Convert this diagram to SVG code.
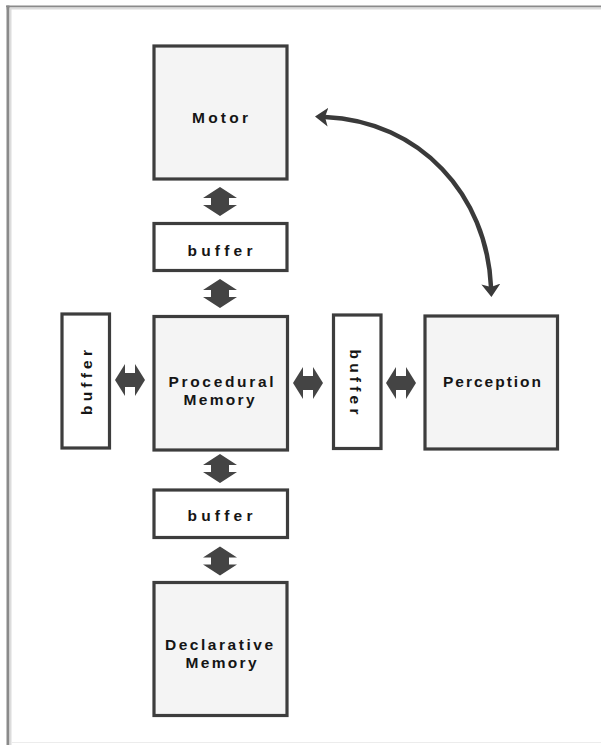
<svg xmlns="http://www.w3.org/2000/svg" width="601" height="745" viewBox="0 0 601 745">
<defs>
<style>
.big{fill:#f4f4f4;stroke:#3d3d3d;stroke-width:3.2}
.buf{fill:#ffffff;stroke:#3d3d3d;stroke-width:3.2}
.lbl{font-family:"Liberation Sans",Arial,sans-serif;font-weight:bold;font-size:15.5px;fill:#151515;text-anchor:middle}
.dbl{fill:#444444}
</style>
<path id="varrow" d="M0,-14.5 L17,-3.5 L9,-3.5 L9,3.5 L17,3.5 L0,14.5 L-17,3.5 L-9,3.5 L-9,-3.5 L-17,-3.5 Z"/>
<path id="harrow" d="M-15,0 L-5,-16 L-5,-7 L5,-7 L5,-16 L15,0 L5,16 L5,7 L-5,7 L-5,16 Z"/>
<marker id="head" viewBox="0 0 14 20" refX="3" refY="10" markerWidth="14" markerHeight="20" orient="auto-start-reverse" markerUnits="userSpaceOnUse">
<path d="M0,0.5 L13,10 L0,19.5 L3,10 Z" fill="#3a3a3a"/>
</marker>
</defs>
<rect x="0" y="0" width="601" height="745" fill="#ffffff"/>
<g id="frame">
<line x1="6" y1="6.5" x2="601" y2="6.5" stroke="#8a8a8a" stroke-width="2"/>
<line x1="6" y1="8.5" x2="601" y2="8.5" stroke="#dcdcdc" stroke-width="2"/>
<line x1="8" y1="5.5" x2="8" y2="745" stroke="#8a8a8a" stroke-width="3"/>
<line x1="10.5" y1="8" x2="10.5" y2="745" stroke="#dcdcdc" stroke-width="2"/>
<line x1="11" y1="742.5" x2="601" y2="742.5" stroke="#ececec" stroke-width="1"/>
</g>
<g id="motor">
<rect class="big" x="154" y="46" width="133" height="133"/>
<text class="lbl" x="220" y="123" textLength="56" lengthAdjust="spacing">Motor</text>
</g>
<g id="buffer-top">
<rect class="buf" x="154" y="223.5" width="133" height="47"/>
<text class="lbl" x="220" y="255.5" textLength="65" lengthAdjust="spacing">buffer</text>
</g>
<g id="procedural">
<rect class="big" x="154" y="316.5" width="133.5" height="133.5"/>
<text class="lbl" x="221" y="386.5" textLength="105" lengthAdjust="spacing">Procedural</text>
<text class="lbl" x="219" y="404.5" textLength="71" lengthAdjust="spacing">Memory</text>
</g>
<g id="buffer-left">
<rect class="buf" x="62" y="314" width="47.5" height="134"/>
<text class="lbl" transform="translate(86.5,382.5) rotate(-90)" x="0" y="5.5" textLength="65" lengthAdjust="spacing">buffer</text>
</g>
<g id="buffer-right">
<rect class="buf" x="333.5" y="315" width="47.5" height="133.5"/>
<text class="lbl" transform="translate(355.5,382) rotate(90)" x="0" y="5.5" textLength="65" lengthAdjust="spacing">buffer</text>
</g>
<g id="perception">
<rect class="big" x="425" y="316" width="132.5" height="133"/>
<text class="lbl" x="492" y="386.5" textLength="98" lengthAdjust="spacing">Perception</text>
</g>
<g id="buffer-bottom">
<rect class="buf" x="154" y="490" width="133.5" height="47.5"/>
<text class="lbl" x="220" y="521" textLength="65" lengthAdjust="spacing">buffer</text>
</g>
<g id="declarative">
<rect class="big" x="154" y="582.5" width="133" height="133"/>
<text class="lbl" x="219" y="650" textLength="108" lengthAdjust="spacing">Declarative</text>
<text class="lbl" x="221" y="668" textLength="71" lengthAdjust="spacing">Memory</text>
</g>
<g id="connectors">
<use href="#varrow" class="dbl" x="220" y="201.5"/>
<use href="#varrow" class="dbl" x="220" y="293.5"/>
<use href="#varrow" class="dbl" x="220" y="468.5"/>
<use href="#varrow" class="dbl" x="220" y="561"/>
<use href="#harrow" class="dbl" x="130" y="380"/>
<use href="#harrow" class="dbl" x="308" y="383"/>
<use href="#harrow" class="dbl" x="401" y="383"/>
<path d="M325,117 C420,121 487,195 491,287" fill="none" stroke="#3a3a3a" stroke-width="4.5" marker-start="url(#head)" marker-end="url(#head)"/>
</g>
</svg>
